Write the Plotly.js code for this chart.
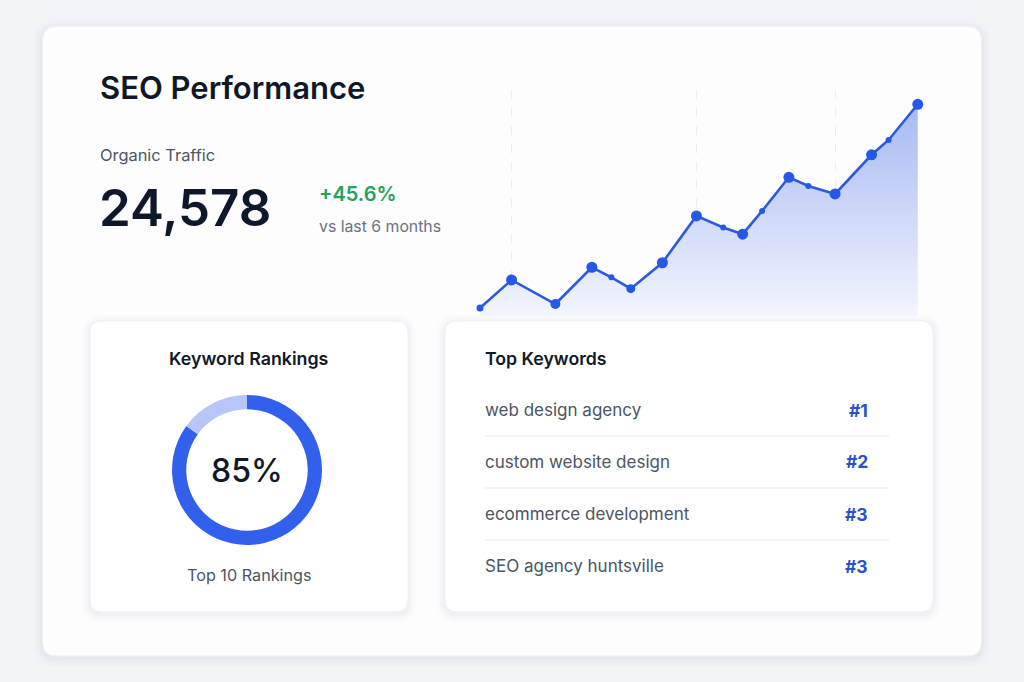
<!DOCTYPE html>
<html>
<head>
<meta charset="utf-8">
<script src="https://cdn.plot.ly/plotly-3.0.1.min.js"></script>
<style>
  html, body { margin: 0; padding: 0; background: #f3f4f7; }
  #chart { width: 1024px; height: 682px; }
</style>
</head>
<body>
<div id="chart"></div>
<script>
// Organic traffic over the last six months (day offset, visits)
const trafficDays = [0, 13, 31, 46, 54, 62, 75, 89, 100, 108, 116, 127, 135, 146, 161, 168, 180];
const trafficVisits = [16880, 17940, 17030, 18420, 18040, 17610, 18590, 20360, 19920, 19670, 20550, 21820, 21490, 21190, 22670, 23230, 24578];
const highlightDays = [13, 89, 146];
const totalTraffic = 24578;
const trafficGrowth = 45.6;

// Share of tracked keywords ranking in the top 10
const rankingShare = [85, 15];
const rankingLabels = ['Top 10', 'Other'];

// Best ranking keywords
const keywords = ['web design agency', 'custom website design', 'ecommerce development', 'SEO agency huntsville'];
const keywordRanks = [1, 2, 3, 3];

// Marker sizes along the traffic line (major points larger)
const pointSizes = [7, 11, 10, 11, 6, 9, 11, 11, 6, 11, 6, 11, 6, 11, 11, 6, 11];

const W = 1024, H = 682;
const px = x => x / W;
const py = y => 1 - y / H;

function roundRect(x0, y0, x1, y1, r) {
  const X = v => px(v).toFixed(5), Y = v => py(v).toFixed(5);
  return 'M' + X(x0 + r) + ',' + Y(y0) +
    ' L' + X(x1 - r) + ',' + Y(y0) +
    ' Q' + X(x1) + ',' + Y(y0) + ' ' + X(x1) + ',' + Y(y0 + r) +
    ' L' + X(x1) + ',' + Y(y1 - r) +
    ' Q' + X(x1) + ',' + Y(y1) + ' ' + X(x1 - r) + ',' + Y(y1) +
    ' L' + X(x0 + r) + ',' + Y(y1) +
    ' Q' + X(x0) + ',' + Y(y1) + ' ' + X(x0) + ',' + Y(y1 - r) +
    ' L' + X(x0) + ',' + Y(y0 + r) +
    ' Q' + X(x0) + ',' + Y(y0) + ' ' + X(x0 + r) + ',' + Y(y0) + ' Z';
}

function card(x0, y0, x1, y1, r, fill, border) {
  const out = [];
  // soft drop shadow made of a few widening translucent layers
  [[8, 0.014], [5, 0.02], [2.5, 0.026]].forEach(([s, a]) => {
    out.push({
      type: 'path', xref: 'paper', yref: 'paper', layer: 'below',
      path: roundRect(x0 - s, y0 - s + 2, x1 + s, y1 + s + 2, r + s),
      fillcolor: 'rgba(40,55,100,' + a + ')', line: { width: 0 }
    });
  });
  out.push({
    type: 'path', xref: 'paper', yref: 'paper', layer: 'below',
    path: roundRect(x0, y0, x1, y1, r),
    fillcolor: fill, line: { color: border, width: 1 }
  });
  return out;
}

const shapes = [].concat(
  card(42.5, 26.5, 981.5, 656, 14, '#fdfdfe', '#eef0f4'),
  card(90, 321, 408, 612, 12, '#ffffff', '#eef0f4'),
  card(445, 321, 933, 612, 12, '#ffffff', '#eef0f4')
);

// row dividers in the keyword list
const rowTop = 410, rowStep = 52;
for (let i = 0; i < keywords.length - 1; i++) {
  const yy = rowTop + rowStep * i + rowStep / 2;
  shapes.push({
    type: 'line', xref: 'paper', yref: 'paper', layer: 'below',
    x0: px(485), x1: px(889), y0: py(yy), y1: py(yy),
    line: { color: '#e7e9ee', width: 1 }
  });
}

const FONT = 'Inter, "Open Sans", "DejaVu Sans", sans-serif';
function label(text, x, y, size, color, weight, xanchor) {
  return {
    xref: 'paper', yref: 'paper', x: px(x), y: py(y), text: text,
    showarrow: false, xanchor: xanchor || 'left', yanchor: 'middle',
    font: { family: FONT, size: size, color: color, weight: weight || 400 }
  };
}

const annotations = [
  label('SEO Performance', 98, 87, 31, '#101828', 600),
  label('Organic Traffic', 98, 155, 16.4, '#4b5563', 400),
  label(totalTraffic.toLocaleString('en-US'), 97, 208, 51, '#0f172a', 600),
  label('+' + trafficGrowth.toFixed(1) + '%', 317, 194, 20, '#22a35b', 600),
  label('vs last 6 months', 317, 227, 15.8, '#6b7280', 400),
  label('Keyword Rankings', 249, 358, 17.8, '#111827', 600, 'center'),
  label(rankingShare[0] + '%', 247, 470, 32, '#111827', 500, 'center'),
  label('Top 10 Rankings', 249, 575, 16.2, '#4b5563', 400, 'center'),
  label('Top Keywords', 483, 358, 17.7, '#111827', 600)
];
keywords.forEach((k, i) => {
  const yy = rowTop + rowStep * i;
  annotations.push(label(k, 483, yy, 17, '#4b5563', 400));
  annotations.push(label('#' + keywordRanks[i], 870, yy, 17.5, '#2b50c8', 700, 'right'));
});

const traffic = {
  type: 'scatter', mode: 'lines+markers',
  x: trafficDays, y: trafficVisits,
  xaxis: 'x', yaxis: 'y',
  line: { color: '#2d5ad8', width: 2.6 },
  marker: { color: '#2459e8', size: pointSizes, opacity: 1, line: { width: 0 } },
  fill: 'tozeroy',
  fillgradient: {
    type: 'vertical', start: 16578, stop: 24578,
    colorscale: [[0, 'rgb(243,245,253)'], [1, 'rgb(166,185,243)']]
  },
  hoverinfo: 'skip', showlegend: false
};

const donut = {
  type: 'pie', values: rankingShare, labels: rankingLabels,
  hole: 0.81, sort: false, direction: 'clockwise', rotation: 0,
  marker: { colors: ['#3161ec', '#b7c6f6'], line: { width: 0 } },
  textinfo: 'none', hoverinfo: 'skip', showlegend: false,
  domain: { x: [px(172), px(322)], y: [py(545), py(395)] }
};

const layout = {
  width: W, height: H,
  margin: { l: 0, r: 0, t: 0, b: 0, pad: 0 },
  paper_bgcolor: '#f3f4f7', plot_bgcolor: 'rgba(0,0,0,0)',
  showlegend: false,
  xaxis: {
    domain: [px(470), px(928)], range: [-4.1, 184.2],
    tickvals: highlightDays, showticklabels: false, ticks: '',
    showgrid: true, griddash: 'dash', gridcolor: '#eaecf0', gridwidth: 1,
    zeroline: false, showline: false, fixedrange: true
  },
  yaxis: {
    domain: [py(316), py(90)], range: [16578, 25118],
    showgrid: false, showticklabels: false, ticks: '',
    zeroline: false, showline: false, fixedrange: true
  },
  shapes: shapes,
  annotations: annotations
};

Plotly.newPlot('chart', [traffic, donut], layout, { staticPlot: true, displayModeBar: false });
</script>
</body>
</html>
